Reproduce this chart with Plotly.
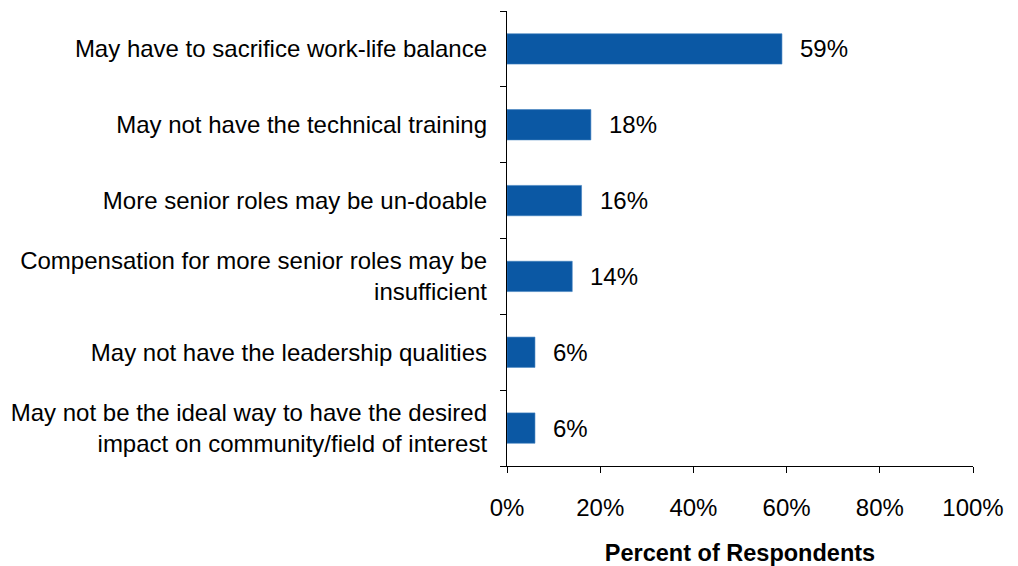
import plotly.graph_objects as go

categories = [
    "May have to sacrifice work-life balance",
    "May not have the technical training",
    "More senior roles may be un-doable",
    "Compensation for more senior roles may be<br>insufficient",
    "May not have the leadership qualities",
    "May not be the ideal way to have the desired<br>impact on community/field of interest",
]
values = [59, 18, 16, 14, 6, 6]
tick_vals = [0, 20, 40, 60, 80, 100]
tick_text = ["0%", "20%", "40%", "60%", "80%", "100%"]

bar_color = "#0B58A4"
font_family = "Liberation Sans, Arial, sans-serif"

fig = go.Figure()
fig.add_trace(go.Bar(
    x=values,
    y=categories,
    orientation="h",
    marker=dict(color=bar_color, line=dict(color="#3F7FC0", width=0.6)),
    width=0.4,
    hoverinfo="skip",
))

for v, c in zip(values, categories):
    fig.add_annotation(
        x=v, y=c, text=f"{v}%", showarrow=False,
        xanchor="left", xshift=16,
        font=dict(size=24, color="#000000", family=font_family),
    )

fig.update_layout(
    width=1018, height=566,
    margin=dict(l=499, r=53, t=3, b=108, autoexpand=False),
    paper_bgcolor="white", plot_bgcolor="white",
    showlegend=False,
    font=dict(family=font_family, size=24, color="#000000"),
    bargap=0.6,
)
fig.update_xaxes(
    range=[0, 100],
    tickvals=tick_vals, ticktext=tick_text,
    showgrid=False, zeroline=False,
    showline=True, linecolor="#000000", linewidth=1.3,
    ticks="outside", ticklen=6, tickcolor="#000000", tickwidth=1.3,
    tickfont=dict(size=24, family=font_family),
    ticklabelstandoff=14,
    title=dict(text="<b>Percent of Respondents</b>", font=dict(size=23.5, family=font_family), standoff=24),
    fixedrange=True,
)
fig.update_yaxes(
    categoryorder="array", categoryarray=categories[::-1],
    autorange=False, range=[-0.5, 5.5],
    showgrid=False, zeroline=False,
    showline=True, linecolor="#000000", linewidth=1.3,
    ticks="outside", tickson="boundaries", ticklen=6, tickcolor="#000000", tickwidth=1.3,
    tickfont=dict(size=24, family=font_family),
    ticklabelstandoff=14,
    fixedrange=True,
)

fig.write_html("out.html")
